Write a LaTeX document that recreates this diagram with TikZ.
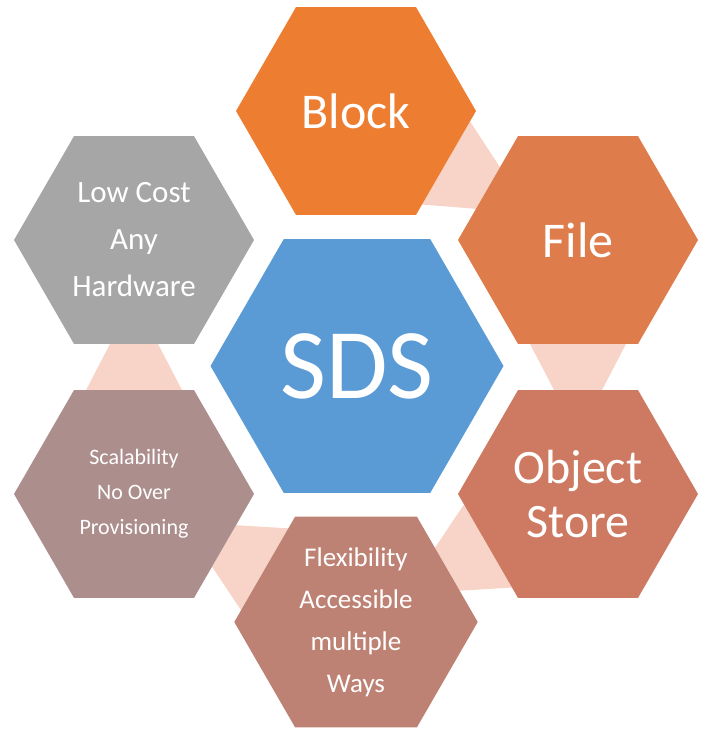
\documentclass[tikz,border=0pt]{standalone}
\usepackage{fontspec}
\setmainfont{Carlito}
\usetikzlibrary{shapes.geometric,calc}
\definecolor{linkpink}{RGB}{248,212,200}
\definecolor{sdsblue}{RGB}{91,155,213}
\definecolor{blockorange}{RGB}{237,125,49}
\definecolor{fileorange}{RGB}{222,124,76}
\definecolor{objectbrown}{RGB}{206,122,98}
\definecolor{flexbrown}{RGB}{190,130,116}
\definecolor{scalemauve}{RGB}{172,142,140}
\definecolor{costgray}{RGB}{166,166,166}
\tikzset{
  hexa/.style={regular polygon,regular polygon sides=6,minimum size=240pt,
    inner sep=0pt,text=white,align=center},
  link/.style={fill=linkpink}
}
% tapered strip between facing edges of two hexagons
\newcommand{\hexlink}[3]{%
  \coordinate (la) at ($(#1)+(#3-30:120pt)$);
  \coordinate (lb) at ($(#1)+(#3+30:120pt)$);
  \coordinate (lc) at ($(#2)+(#3+150:120pt)$);
  \coordinate (ld) at ($(#2)+(#3+210:120pt)$);
  \fill[link] ($(la)!0.1!(lb)$) -- ($(la)!0.9!(lb)$)
    -- ($(lc)!0.3!(ld)$) -- ($(lc)!0.7!(ld)$) -- cycle;}
\begin{document}
\begin{tikzpicture}[x=1pt,y=-1pt,line cap=round,line join=round]
\useasboundingbox (0,0) rectangle (705,736);
\coordinate (cblock) at (356,111);
\coordinate (cfile) at (578,240);
\coordinate (cobject) at (578,494);
\coordinate (cflex) at (356,622);
\coordinate (cscale) at (134,494);
\coordinate (ccost) at (134,240);
\hexlink{cblock}{cfile}{-30}
\hexlink{cfile}{cobject}{-90}
\hexlink{cobject}{cflex}{-150}
\hexlink{cflex}{cscale}{150}
\hexlink{cscale}{ccost}{90}
\node[hexa,fill=sdsblue,minimum size=293pt,font=\fontsize{100}{100}\selectfont] (sds) at (357,366) {SDS};
\node[hexa,fill=blockorange,font=\fontsize{50}{50}\selectfont] (block) at (cblock) {Block};
\node[hexa,fill=fileorange,font=\fontsize{50}{50}\selectfont] (file) at (cfile) {File};
\node[hexa,fill=objectbrown,font=\fontsize{48}{54}\selectfont] (object) at (cobject) {Object\\Store};
\node[hexa,fill=flexbrown,font=\fontsize{27}{42}\selectfont] (flex) at (cflex) {Flexibility\\Accessible\\multiple\\Ways};
\node[hexa,fill=scalemauve,font=\fontsize{22}{35}\selectfont] (scale) at (cscale) {Scalability\\No Over\\Provisioning};
\node[hexa,fill=costgray,font=\fontsize{31}{47}\selectfont] (cost) at (ccost) {Low Cost\\Any\\Hardware};
\end{tikzpicture}
\end{document}
